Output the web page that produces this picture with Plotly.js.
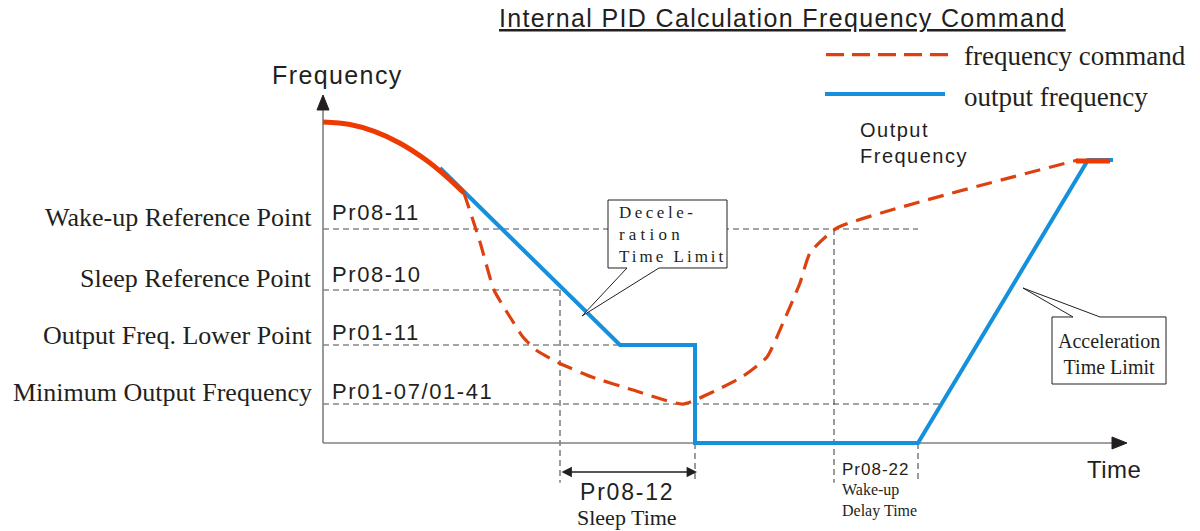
<!DOCTYPE html>
<html>
<head>
<meta charset="utf-8">
<script src="https://cdn.plot.ly/plotly-3.0.1.min.js"></script>
<style>
  html, body { margin: 0; padding: 0; background: #ffffff; }
  #chart { width: 1200px; height: 531px; }
</style>
</head>
<body>
<div id="chart"></div>
<script>
// Sleep / wake-up behaviour of the internal PID frequency command.
// Time is in arbitrary units, frequency in Hz (top of the curve = 50 Hz).

// Frequency command: solid start, dashed body, solid end
const cmdHeadT = [0, 1.35, 2.6, 3.85, 5.1, 6.1, 7.05];
const cmdHeadF = [50.0, 49.6, 48.5, 46.7, 44.2, 41.7, 38.94];
const cmdT = [7.05, 7.85, 8.55, 9.35, 10.0, 10.65, 11.8, 13.45, 15.5, 18.0, 19.7, 20.95, 22.2, 23.0, 23.85, 24.35, 25.7, 37.75];
const cmdF = [38.94, 31.31, 23.83, 19.63, 16.51, 14.49, 12.46, 10.28, 8.26, 6.07, 8.26, 10.28, 13.4, 18.69, 24.92, 29.6, 33.49, 44.08];
const cmdTailT = [37.65, 39.35];
const cmdTailF = [43.93, 43.93];

// Output frequency
const outT = [5.85, 14.85, 18.6, 18.6, 29.75, 38.25, 39.5];
const outF = [42.83, 15.26, 15.26, 0, 0, 44.08, 44.08];

// Parameter levels (Hz) and the time each guide line runs to
const levelNames = ['Wake-up Reference Point', 'Sleep Reference Point', 'Output Freq. Lower Point', 'Minimum Output Frequency'];
const levelParams = ['Pr08-11', 'Pr08-10', 'Pr01-11', 'Pr01-07/01-41'];
const levelF = [33.33, 23.83, 15.26, 6.07];
const levelEndT = [29.75, 11.85, 14.85, 30.9];

// Time markers: sleep start, sleep end, wake-up point, wake-up delay end
const markT = [11.85, 18.6, 25.55, 29.75];
const markTopF = [23.83, 0, 33.33, 0];
const markBottomF = -6.2;

// Sleep-time span
const sleepSpanT = [11.85, 18.7];
const spanF = -4.52;

// Axis extents
const axisTopF = 54.21;
const axisEndT = 40.2;

const SANS = 'Liberation Sans, Arial, sans-serif';
const SERIF = 'Liberation Serif, Times New Roman, serif';
const INK = '#231f20';
const RED = '#dc410e';
const RED_SOLID = '#ee3a00';
const BLUE = '#1490dc';
const GUIDE = '#4a4a4a';

function sp(txt, ls, extra) {
  return '<span style="letter-spacing:' + ls + 'px' + (extra ? ';' + extra : '') + '">' + txt + '</span>';
}

const traces = [
  { x: outT, y: outF, mode: 'lines', name: 'output frequency',
    line: { color: BLUE, width: 4 }, showlegend: false, hoverinfo: 'skip' },
  { x: cmdHeadT, y: cmdHeadF, mode: 'lines', name: 'frequency command',
    line: { color: RED_SOLID, width: 5, shape: 'spline', smoothing: 1 }, showlegend: false, hoverinfo: 'skip' },
  { x: cmdT, y: cmdF, mode: 'lines', name: 'frequency command',
    line: { color: RED, width: 3.2, dash: '16px,9px', shape: 'spline', smoothing: 0.5 }, showlegend: false, hoverinfo: 'skip' },
  { x: cmdTailT, y: cmdTailF, mode: 'lines', name: 'frequency command',
    line: { color: RED_SOLID, width: 5 }, showlegend: false, hoverinfo: 'skip' }
];

const shapes = [];
// horizontal guide lines at each level
levelF.forEach((f, i) => {
  shapes.push({ type: 'line', layer: 'below', x0: 0, x1: levelEndT[i], y0: f, y1: f,
    line: { color: GUIDE, width: 1.1, dash: '6px,4px' } });
});
// vertical time markers
markT.forEach((t, i) => {
  shapes.push({ type: 'line', layer: 'below', x0: t, x1: t, y0: markTopF[i], y1: markBottomF,
    line: { color: GUIDE, width: 1.1, dash: '6px,4px' } });
});
// axes
shapes.push({ type: 'line', layer: 'below', x0: 0, x1: 0, y0: 0, y1: axisTopF - 1.5, line: { color: '#808080', width: 1.6 } });
shapes.push({ type: 'line', layer: 'below', x0: 0, x1: axisEndT - 0.6, y0: 0, y1: 0, line: { color: '#808080', width: 1.6 } });
shapes.push({ type: 'path', path: 'M0,' + axisTopF + ' L0.3,' + (axisTopF - 2.34) + ' L-0.3,' + (axisTopF - 2.34) + ' Z',
  fillcolor: INK, line: { color: INK, width: 1 } });
shapes.push({ type: 'path', path: 'M' + axisEndT + ',0 L' + (axisEndT - 0.75) + ',0.93 L' + (axisEndT - 0.75) + ',-0.93 Z',
  fillcolor: INK, line: { color: INK, width: 1 } });

// callout boxes
shapes.push({ type: 'path',
  path: 'M14.25,37.85 L20.2,37.85 L20.2,27.26 L16.8,27.26 L12.95,19.78 L15.2,27.26 L14.25,27.26 Z',
  fillcolor: '#ffffff', line: { color: INK, width: 1 } });
shapes.push({ type: 'path',
  path: 'M36.45,19.63 L37.5,19.63 L35.0,24.14 L38.85,19.63 L42.15,19.63 L42.15,9.19 L36.45,9.19 Z',
  fillcolor: '#ffffff', line: { color: INK, width: 1 } });

// legend swatches
shapes.push({ type: 'line', x0: 25.15, x1: 31.3, y0: 60.5, y1: 60.5, line: { color: RED, width: 3.4, dash: '18px,8px' } });
shapes.push({ type: 'line', x0: 25.1, x1: 31.1, y0: 54.36, y1: 54.36, line: { color: BLUE, width: 4 } });

const annotations = [];
function note(x, y, text, font, xanchor, extra) {
  annotations.push(Object.assign({ x: x, y: y, xref: 'x', yref: 'y', text: text, showarrow: false,
    xanchor: xanchor || 'center', yanchor: 'middle', font: font }, extra || {}));
}

note(22.95, 66.2, sp('Internal PID Calculation Frequency Command', 1.35, 'text-decoration:underline'),
  { family: SANS, size: 25, color: INK });
note(31.95, 60.28, 'frequency command', { family: SERIF, size: 27, color: INK }, 'left');
note(31.95, 53.89, 'output frequency', { family: SERIF, size: 27, color: INK }, 'left');
note(0.7, 57.32, sp('Frequency', 1.4), { family: SANS, size: 25, color: INK });
note(39.55, -4.2, sp('Time', 0.5), { family: SANS, size: 24, color: INK });
note(26.75, 46.73, sp('Output', 1.5) + '<br>' + sp('Frequency', 1.5), { family: SANS, size: 20, color: INK }, 'left',
  { align: 'left' });

const nameY = [35.05, 25.7, 16.67, 7.79];
const paramY = [35.83, 26.17, 17.29, 8.1];
levelNames.forEach((n, i) => {
  note(-0.45, nameY[i], n, { family: SERIF, size: 26, color: INK }, 'right');
  note(0.35, paramY[i], sp(levelParams[i], 1.6), { family: SANS, size: 22, color: INK }, 'left');
});

// callout texts
note(14.7, 32.5, sp('Decele-', 3.5) + '<br>' + sp('ration', 4.2) + '<br>' + sp('Time Limit', 3.0),
  { family: SERIF, size: 17, color: INK }, 'left', { align: 'left' });
note(39.3, 13.85, 'Acceleration<br>Time Limit', { family: SERIF, size: 20, color: INK }, 'center', { align: 'center' });

// sleep time span
annotations.push({ x: sleepSpanT[1], y: spanF, ax: sleepSpanT[0], ay: spanF, xref: 'x', yref: 'y', axref: 'x', ayref: 'y',
  text: '', showarrow: true, arrowhead: 2, arrowside: 'end+start', arrowsize: 1.3, arrowwidth: 1.6, arrowcolor: INK });
note(15.2, -7.63, sp('Pr08-12', 1.8), { family: SANS, size: 23, color: INK });
note(15.2, -11.53, 'Sleep Time', { family: SERIF, size: 22, color: INK });

// wake-up delay
note(25.85, -4.2, sp('Pr08-22', 1), { family: SANS, size: 17, color: INK }, 'left');
note(25.85, -8.9, 'Wake-up<br>Delay Time', { family: SERIF, size: 16, color: INK }, 'left', { align: 'left' });

const layout = {
  width: 1200, height: 531,
  margin: { l: 0, r: 0, t: 0, b: 0 },
  paper_bgcolor: '#ffffff', plot_bgcolor: '#ffffff',
  showlegend: false,
  xaxis: { range: [-16.15, 43.85], visible: false, fixedrange: true },
  yaxis: { range: [-13.707, 69.003], visible: false, fixedrange: true },
  shapes: shapes,
  annotations: annotations
};

Plotly.newPlot('chart', traces, layout, { staticPlot: true, displayModeBar: false });
</script>
</body>
</html>
